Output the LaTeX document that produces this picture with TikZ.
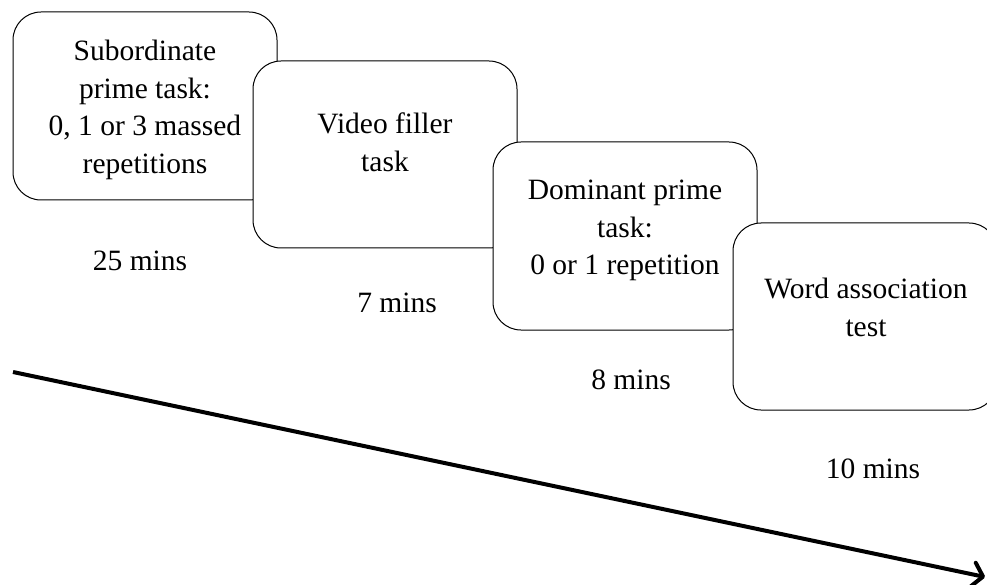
\documentclass[tikz,border=0pt]{standalone}
\usepackage{fontspec}
\setmainfont{Liberation Serif}
\usetikzlibrary{arrows.meta}
\begin{document}
\begin{tikzpicture}[x=1pt,y=-1pt,
  taskbox/.style={draw=black, line width=1pt, fill=white, rounded corners=28pt, inner sep=0pt, minimum width=264pt},
  boxtext/.style={align=center, inner sep=0pt, anchor=north, font=\fontsize{29.5}{37.5}\selectfont},
  timelabel/.style={inner sep=0pt, anchor=base, font=\fontsize{29.5}{37.5}\selectfont}]
\useasboundingbox (0,0) rectangle (987,585);
% boxes
\node[taskbox, minimum height=188pt] (b1) at (145,106) {};
\node[boxtext] (t1) at (145,40) {Subordinate\\prime task:\\0, 1 or 3 massed\\repetitions};
\node[taskbox, minimum height=187pt] (b2) at (385,154.5) {};
\node[boxtext] (t2) at (385,113) {Video filler\\task};
\node[taskbox, minimum height=188pt] (b3) at (625,236) {};
\node[boxtext] (t3) at (625,180) {Dominant prime\\task:\\0 or 1 repetition};
\node[taskbox, minimum height=187pt] (b4) at (865,316.5) {};
\node[boxtext] (t4) at (866,278) {Word association\\test};
% time labels
\node[timelabel] (l1) at (140,270) {25 mins};
\node[timelabel] (l2) at (397,312) {7 mins};
\node[timelabel] (l3) at (631,389) {8 mins};
\node[timelabel] (l4) at (873,478) {10 mins};
% time arrow
\coordinate (s) at (13,372);
\coordinate (e) at (985,577);
\draw[line width=4pt, -{Straight Barb[round, length=10pt, width=24pt]}] (s) -- (e);
\end{tikzpicture}
\end{document}
